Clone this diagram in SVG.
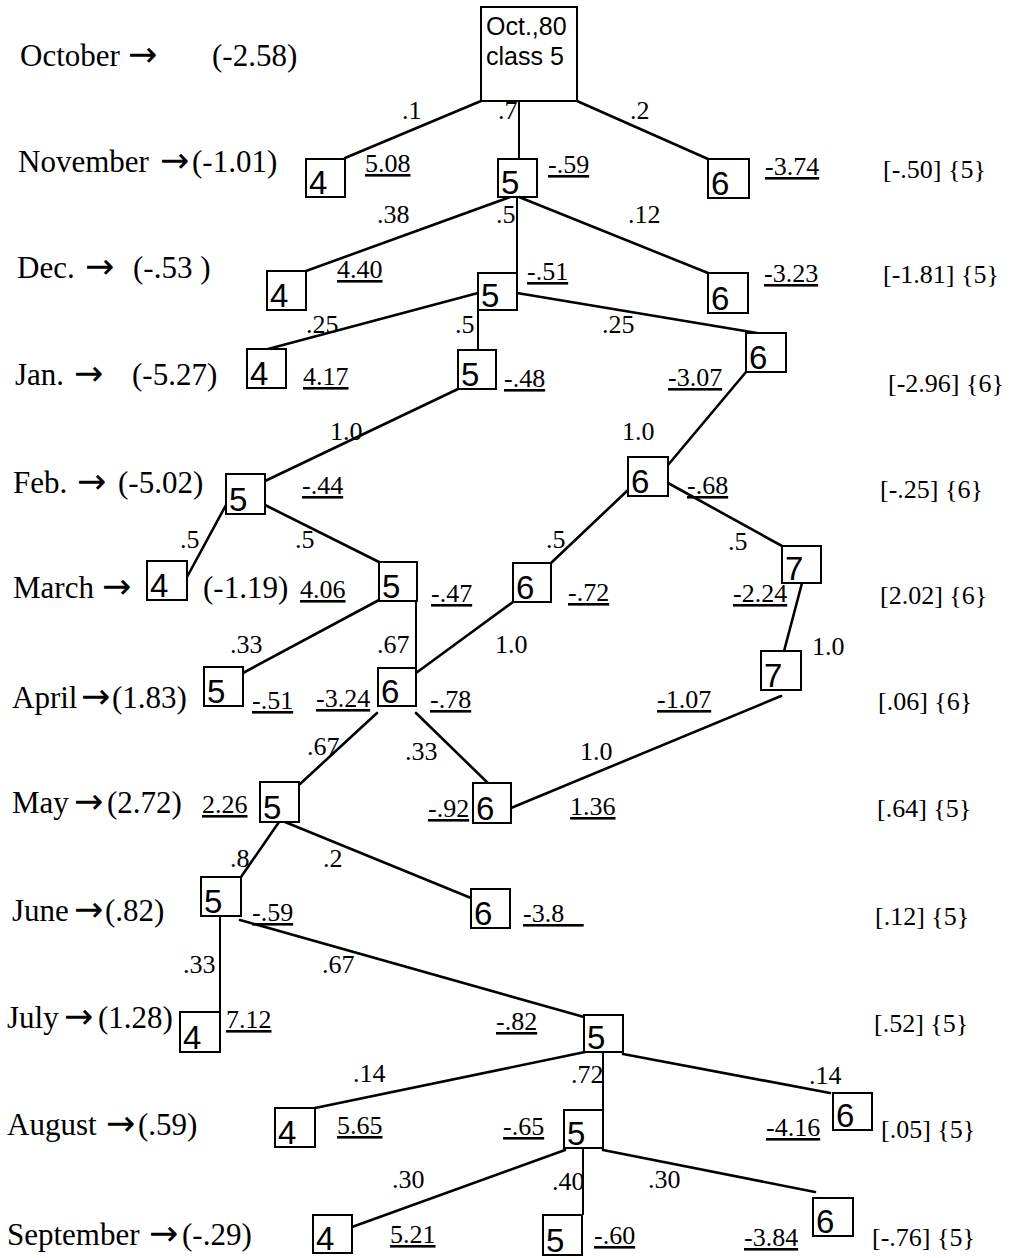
<svg xmlns="http://www.w3.org/2000/svg" width="1012" height="1258" viewBox="0 0 1012 1258">
<style>
.bg{fill:#fff}
.box{fill:#fff;stroke:#000;stroke-width:2}
.dg{font-family:"Liberation Sans",Arial,sans-serif;font-size:33px;fill:#000}
.rt{font-family:"Liberation Sans",Arial,sans-serif;font-size:25px;fill:#000}
.ln{stroke:#000;stroke-width:2.6;fill:none;stroke-linecap:round}
.vl{stroke:#000;stroke-width:2;fill:none}
.mo{font-family:"Liberation Serif","Times New Roman",serif;font-size:31px;fill:#000}
.ar{font-family:"DejaVu Sans",sans-serif;font-size:35px}
.p{font-family:"Liberation Serif","Times New Roman",serif;font-size:26px;fill:#000}
.u{font-family:"Liberation Serif","Times New Roman",serif;font-size:26px;fill:#000;text-decoration:underline}
.r{font-family:"Liberation Serif","Times New Roman",serif;font-size:26px;fill:#000}
</style>
<rect class="bg" x="0" y="0" width="1012" height="1258"/>

<g id="connectors">
<line class="ln" x1="481" y1="101" x2="345" y2="158"/>
<line class="vl" x1="519" y1="101" x2="519" y2="159"/>
<line class="ln" x1="577" y1="101" x2="708" y2="159"/>
<line class="ln" x1="510" y1="197" x2="306" y2="271"/>
<line class="vl" x1="517" y1="197" x2="517" y2="273"/>
<line class="ln" x1="519" y1="197" x2="708" y2="273"/>
<line class="ln" x1="478" y1="293" x2="268" y2="349"/>
<line class="vl" x1="478" y1="310" x2="478" y2="350"/>
<line class="ln" x1="517" y1="293" x2="757" y2="333"/>
<line class="ln" x1="458" y1="389" x2="265" y2="481"/>
<line class="ln" x1="746" y1="372" x2="668" y2="465"/>
<line class="ln" x1="226" y1="505" x2="187" y2="577"/>
<line class="ln" x1="265" y1="505" x2="379" y2="562"/>
<line class="ln" x1="628" y1="490" x2="551" y2="563"/>
<line class="ln" x1="668" y1="483" x2="782" y2="546"/>
<line class="ln" x1="379" y1="600" x2="243" y2="673"/>
<line class="vl" x1="416" y1="601" x2="416" y2="668"/>
<line class="ln" x1="513" y1="602" x2="416" y2="673"/>
<line class="ln" x1="802" y1="583" x2="783" y2="655"/>
<line class="ln" x1="377" y1="713" x2="300" y2="784"/>
<line class="ln" x1="416" y1="713" x2="492" y2="787"/>
<line class="ln" x1="781" y1="696" x2="511" y2="808"/>
<line class="ln" x1="279" y1="822" x2="241" y2="877"/>
<line class="ln" x1="285" y1="822" x2="471" y2="898"/>
<line class="vl" x1="220" y1="916" x2="220" y2="1012"/>
<line class="ln" x1="240" y1="920" x2="584" y2="1017"/>
<line class="ln" x1="585" y1="1052" x2="315" y2="1108"/>
<line class="vl" x1="603" y1="1052" x2="603" y2="1110"/>
<line class="ln" x1="623" y1="1054" x2="830" y2="1093"/>
<line class="ln" x1="565" y1="1150" x2="352" y2="1227"/>
<line class="vl" x1="583" y1="1148" x2="583" y2="1215"/>
<line class="ln" x1="603" y1="1150" x2="815" y2="1192"/>
</g>

<g id="edge-labels">
<text class="p" x="402" y="119">.1</text>
<text class="p" x="498" y="119">.7</text>
<text class="p" x="630" y="119">.2</text>
<text class="p" x="377" y="223">.38</text>
<text class="p" x="496" y="223">.5</text>
<text class="p" x="628" y="223">.12</text>
<text class="p" x="306" y="333">.25</text>
<text class="p" x="455" y="333">.5</text>
<text class="p" x="602" y="333">.25</text>
<text class="p" x="330" y="440">1.0</text>
<text class="p" x="622" y="440">1.0</text>
<text class="p" x="180" y="548">.5</text>
<text class="p" x="295" y="548">.5</text>
<text class="p" x="546" y="548">.5</text>
<text class="p" x="728" y="550">.5</text>
<text class="p" x="230" y="653">.33</text>
<text class="p" x="377" y="653">.67</text>
<text class="p" x="495" y="653">1.0</text>
<text class="p" x="812" y="655">1.0</text>
<text class="p" x="307" y="755">.67</text>
<text class="p" x="405" y="760">.33</text>
<text class="p" x="580" y="760">1.0</text>
<text class="p" x="230" y="867">.8</text>
<text class="p" x="323" y="867">.2</text>
<text class="p" x="183" y="973">.33</text>
<text class="p" x="322" y="973">.67</text>
<text class="p" x="353" y="1082">.14</text>
<text class="p" x="571" y="1083">.72</text>
<text class="p" x="809" y="1084">.14</text>
<text class="p" x="392" y="1188">.30</text>
<text class="p" x="552" y="1190">.40</text>
<text class="p" x="648" y="1188">.30</text>
</g>

<g id="root"><rect class="box" x="481" y="7" width="96" height="94"/>
<text class="rt" x="486" y="35">Oct.,80</text><text class="rt" x="486" y="65">class 5</text></g>

<g id="nov-4"><rect class="box" x="306" y="159" width="39" height="38"/><text class="dg" x="309" y="194">4</text></g>
<g id="nov-5"><rect class="box" x="498" y="159" width="39" height="38"/><text class="dg" x="501" y="194">5</text></g>
<g id="nov-6"><rect class="box" x="708" y="159" width="41" height="39"/><text class="dg" x="711" y="195">6</text></g>
<g id="dec-4"><rect class="box" x="267" y="271" width="39" height="39"/><text class="dg" x="270" y="307">4</text></g>
<g id="dec-5"><rect class="box" x="478" y="273" width="39" height="37"/><text class="dg" x="481" y="307">5</text></g>
<g id="dec-6"><rect class="box" x="708" y="273" width="40" height="40"/><text class="dg" x="711" y="310">6</text></g>
<g id="jan-4"><rect class="box" x="247" y="349" width="39" height="39"/><text class="dg" x="250" y="385">4</text></g>
<g id="jan-5"><rect class="box" x="458" y="350" width="38" height="39"/><text class="dg" x="461" y="386">5</text></g>
<g id="jan-6"><rect class="box" x="746" y="333" width="40" height="39"/><text class="dg" x="749" y="369">6</text></g>
<g id="feb-5"><rect class="box" x="226" y="474" width="39" height="40"/><text class="dg" x="229" y="511">5</text></g>
<g id="feb-6"><rect class="box" x="628" y="457" width="40" height="39"/><text class="dg" x="631" y="493">6</text></g>
<g id="mar-4"><rect class="box" x="147" y="561" width="40" height="39"/><text class="dg" x="150" y="597">4</text></g>
<g id="mar-5"><rect class="box" x="379" y="562" width="38" height="39"/><text class="dg" x="382" y="598">5</text></g>
<g id="mar-6"><rect class="box" x="513" y="563" width="38" height="39"/><text class="dg" x="516" y="599">6</text></g>
<g id="mar-7"><rect class="box" x="782" y="546" width="39" height="37"/><text class="dg" x="785" y="580">7</text></g>
<g id="apr-5"><rect class="box" x="204" y="667" width="39" height="39"/><text class="dg" x="207" y="703">5</text></g>
<g id="apr-6"><rect class="box" x="378" y="668" width="38" height="38"/><text class="dg" x="381" y="703">6</text></g>
<g id="apr-7"><rect class="box" x="761" y="651" width="40" height="39"/><text class="dg" x="764" y="687">7</text></g>
<g id="may-5"><rect class="box" x="260" y="782" width="39" height="40"/><text class="dg" x="263" y="819">5</text></g>
<g id="may-6"><rect class="box" x="473" y="783" width="38" height="40"/><text class="dg" x="476" y="820">6</text></g>
<g id="jun-5"><rect class="box" x="201" y="877" width="40" height="39"/><text class="dg" x="204" y="913">5</text></g>
<g id="jun-6"><rect class="box" x="471" y="889" width="39" height="39"/><text class="dg" x="474" y="925">6</text></g>
<g id="jul-4"><rect class="box" x="180" y="1012" width="40" height="40"/><text class="dg" x="183" y="1049">4</text></g>
<g id="jul-5"><rect class="box" x="584" y="1015" width="39" height="37"/><text class="dg" x="587" y="1049">5</text></g>
<g id="aug-4"><rect class="box" x="275" y="1108" width="40" height="39"/><text class="dg" x="278" y="1144">4</text></g>
<g id="aug-5"><rect class="box" x="564" y="1110" width="39" height="38"/><text class="dg" x="567" y="1145">5</text></g>
<g id="aug-6"><rect class="box" x="833" y="1093" width="39" height="37"/><text class="dg" x="836" y="1127">6</text></g>
<g id="sep-4"><rect class="box" x="313" y="1215" width="39" height="38"/><text class="dg" x="316" y="1250">4</text></g>
<g id="sep-5"><rect class="box" x="543" y="1215" width="39" height="40"/><text class="dg" x="546" y="1252">5</text></g>
<g id="sep-6"><rect class="box" x="813" y="1198" width="40" height="38"/><text class="dg" x="816" y="1233">6</text></g>

<g id="values">
<text class="u" x="365" y="172">5.08</text>
<text class="u" x="548" y="173">-.59</text>
<text class="u" x="765" y="175">-3.74</text>
<text class="u" x="337" y="278">4.40</text>
<text class="u" x="527" y="280">-.51</text>
<text class="u" x="764" y="282">-3.23</text>
<text class="u" x="303" y="385">4.17</text>
<text class="u" x="504" y="387">-.48</text>
<text class="u" x="668" y="386">-3.07</text>
<text class="u" x="302" y="494">-.44</text>
<text class="u" x="687" y="494">-.68</text>
<text class="u" x="300" y="598">4.06</text>
<text class="u" x="431" y="602">-.47</text>
<text class="u" x="568" y="601">-.72</text>
<text class="u" x="733" y="602">-2.24</text>
<text class="u" x="252" y="709">-.51</text>
<text class="u" x="316" y="707">-3.24</text>
<text class="u" x="430" y="708">-.78</text>
<text class="u" x="657" y="708">-1.07</text>
<text class="u" x="202" y="813">2.26</text>
<text class="u" x="428" y="817">-.92</text>
<text class="u" x="570" y="815">1.36</text>
<text class="u" x="252" y="921">-.59</text>
<text class="u" x="523" y="922">-3.8&#160;&#160;&#160;</text>
<text class="u" x="226" y="1028">7.12</text>
<text class="u" x="496" y="1030">-.82</text>
<text class="u" x="337" y="1134">5.65</text>
<text class="u" x="503" y="1135">-.65</text>
<text class="u" x="766" y="1136">-4.16</text>
<text class="u" x="390" y="1243">5.21</text>
<text class="u" x="594" y="1244">-.60</text>
<text class="u" x="744" y="1246">-3.84</text>
</g>

<g id="months">
<text class="mo" x="20" y="66">October<tspan class="ar" x="128">→</tspan><tspan x="212">(-2.58)</tspan></text>
<text class="mo" x="18" y="172">November<tspan class="ar" x="160">→</tspan><tspan x="192">(-1.01)</tspan></text>
<text class="mo" x="17" y="278">Dec.<tspan class="ar" x="85">→</tspan><tspan x="133">(-.53 )</tspan></text>
<text class="mo" x="15" y="385">Jan.<tspan class="ar" x="74">→</tspan><tspan x="132">(-5.27)</tspan></text>
<text class="mo" x="13" y="493">Feb.<tspan class="ar" x="77">→</tspan><tspan x="118">(-5.02)</tspan></text>
<text class="mo" x="13" y="598">March<tspan class="ar" x="102">→</tspan><tspan x="203">(-1.19)</tspan></text>
<text class="mo" x="12" y="708">April<tspan class="ar" x="81">→</tspan><tspan x="112">(1.83)</tspan></text>
<text class="mo" x="12" y="813">May<tspan class="ar" x="74">→</tspan><tspan x="107">(2.72)</tspan></text>
<text class="mo" x="12" y="921">June<tspan class="ar" x="74">→</tspan><tspan x="105">(.82)</tspan></text>
<text class="mo" x="7" y="1028">July<tspan class="ar" x="64">→</tspan><tspan x="98">(1.28)</tspan></text>
<text class="mo" x="7" y="1135">August<tspan class="ar" x="106">→</tspan><tspan x="138">(.59)</tspan></text>
<text class="mo" x="7" y="1245">September<tspan class="ar" x="149">→</tspan><tspan x="182">(-.29)</tspan></text>
</g>

<g id="totals">
<text class="r" x="883" y="178">[-.50] {5}</text>
<text class="r" x="883" y="283">[-1.81] {5}</text>
<text class="r" x="888" y="392">[-2.96] {6}</text>
<text class="r" x="880" y="498">[-.25] {6}</text>
<text class="r" x="880" y="604">[2.02] {6}</text>
<text class="r" x="878" y="710">[.06] {6}</text>
<text class="r" x="877" y="817">[.64] {5}</text>
<text class="r" x="875" y="925">[.12] {5}</text>
<text class="r" x="874" y="1032">[.52] {5}</text>
<text class="r" x="881" y="1138">[.05] {5}</text>
<text class="r" x="872" y="1246">[-.76] {5}</text>
</g>
</svg>
